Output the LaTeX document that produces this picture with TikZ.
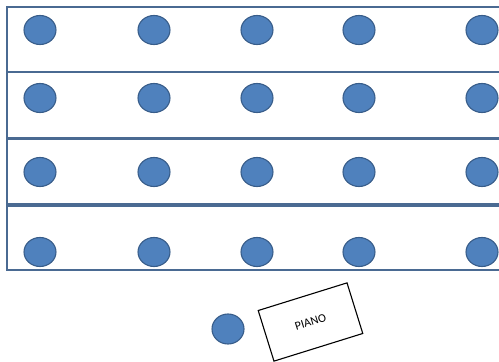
\documentclass[tikz,border=0pt]{standalone}
\usepackage{fontspec}
\setmainfont{Carlito}
\usepackage{tikz}
\usetikzlibrary{shapes.geometric}
\definecolor{seatfill}{HTML}{4F81BD}
\definecolor{seatline}{HTML}{385D8A}
\definecolor{rowline}{HTML}{4A6A92}

\begin{document}
\begin{tikzpicture}[x=1pt,y=-1pt,
      seat/.style={ellipse,draw=seatline,fill=seatfill,line width=1.1pt,minimum width=32pt,minimum height=29pt,inner sep=0pt},
      rowbox/.style={draw=rowline,line width=1.6pt},
      pianobox/.style={draw=black,line width=1.1pt,minimum width=93pt,minimum height=53pt,font=\fontsize{12}{14}\selectfont}
    ]
      \useasboundingbox (0,0) rectangle (499,362);
      % rows of seats
      \draw[rowbox] (510,7) -- (7,7) -- (7,72) -- (510,72);
      \draw[rowbox] (7,72) -- (7,138) -- (510,138);
      \draw[rowbox] (510,139) -- (7,139) -- (7,204) -- (510,204);
      \draw[rowbox] (510,206) -- (7,206) -- (7,270) -- (510,270);
      \foreach \r/\y in {1/30,2/98,3/172,4/252}{
        \foreach \c/\x in {1/40,2/154,3/257,4/359,5/482}{
          \node[seat] (s\r\c) at (\x,\y) {};
        }
      }
      % piano
      \node[seat,minimum height=30pt] (player) at (228,329) {};
      \node[pianobox,rotate=17.3] (piano) at (310.5,322) {PIANO};
    \end{tikzpicture}
\end{document}
